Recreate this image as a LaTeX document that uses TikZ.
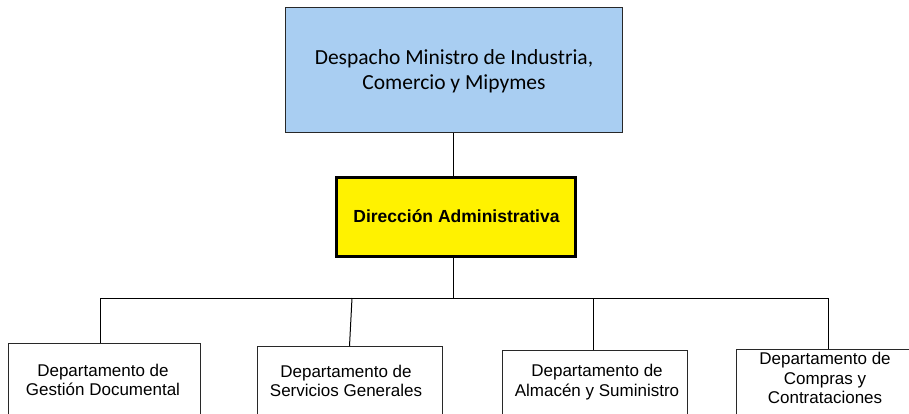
\documentclass[tikz,border=0pt]{standalone}
\usepackage{fontspec}
\setmainfont{Liberation Sans}
\newfontfamily\calibri{Carlito}
\definecolor{topblue}{RGB}{169,206,242}
\definecolor{boxline}{RGB}{40,40,40}
\begin{document}
\begin{tikzpicture}[x=1pt,y=-1pt,
  topbox/.style={draw=boxline,line width=1pt,fill=topblue,minimum width=337pt,minimum height=125pt,anchor=north west,inner sep=0pt},
  dirbox/.style={draw=black,line width=3pt,fill=yellow,minimum width=239pt,minimum height=79pt,anchor=north west,inner sep=0pt},
  deptbox/.style={draw=boxline,line width=1pt,fill=white,anchor=north west,inner sep=0pt,minimum height=100pt},
  depttext/.style={align=center,font=\fontsize{17}{19.5}\selectfont,inner sep=0pt},
  conn/.style={draw=black,line width=1pt}
]
\clip (0,0) rectangle (909,413);
\fill[white] (0,0) rectangle (909,413);
% top box
\node[topbox] (top) at (285,7) {};
\node[align=center,font=\calibri\fontsize{21.5}{25}\selectfont,inner sep=0pt] (toptext) at ([yshift=-1]top.center) {Despacho Ministro de Industria,\\Comercio y Mipymes};
% direction box
\node[dirbox] (dir) at (334.5,175.5) {};
\node[font=\bfseries\fontsize{17.5}{20}\selectfont,inner sep=0pt] (dirtext) at ([xshift=1]dir.center) {Dirección Administrativa};
% department boxes
\node[deptbox,minimum width=192pt] (d1) at (8,343) {};
\node[deptbox,minimum width=185pt] (d2) at (257,346) {};
\node[deptbox,minimum width=185pt] (d3) at (502,350) {};
\node[deptbox,minimum width=180pt] (d4) at (736,349) {};
\node[depttext] (t1) at (103,380) {Departamento de\\Gestión Documental};
\node[depttext] (t2) at (346,381) {Departamento de\\Servicios Generales};
\node[depttext] (t3) at (597,382) {Departamento de\\Almacén y Suministro};
\node[depttext] (t4) at (825,378) {Departamento de\\Compras y\\Contrataciones};
% connectors
\coordinate (bus) at (453.5,298);
\coordinate (b1) at (100,298);
\coordinate (b2) at (352,298);
\coordinate (b3) at (593,298);
\coordinate (b4) at (828.5,298);
\draw[conn] (top.south -| bus) -- (dir.north -| bus);
\draw[conn] (dir.south -| bus) -- (bus);
\draw[conn] (b1) -- (b4);
\draw[conn] (b1) -- (d1.north -| b1);
\draw[conn] (b2) -- ([xshift=-0.5]d2.north);
\draw[conn] (b3) -- (d3.north -| b3);
\draw[conn] (b4) -- (d4.north -| b4);
\end{tikzpicture}
\end{document}
